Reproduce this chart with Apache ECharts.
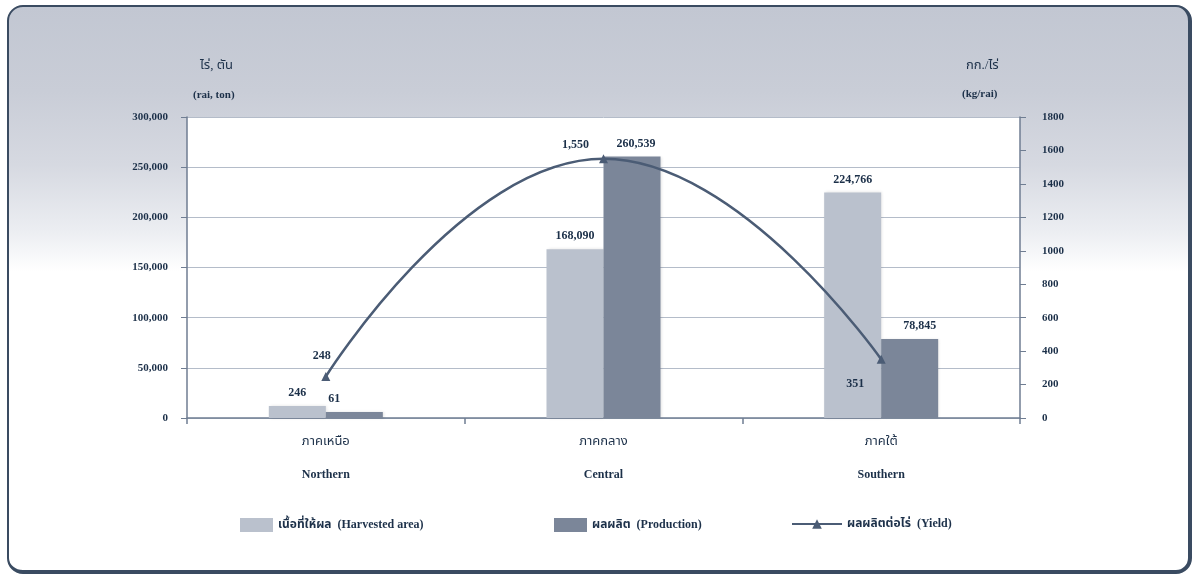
<!DOCTYPE html>
<html>
<head>
<meta charset="utf-8">
<script src="https://cdn.jsdelivr.net/npm/echarts@6/dist/echarts.min.js"></script>
<style>
html,body{margin:0;padding:0;background:#fff;}
#frame{position:absolute;left:7px;top:5px;width:1179px;height:563px;border:2px solid #3a4b61;border-right-width:4px;border-bottom-width:4px;border-radius:16px;
background:linear-gradient(to bottom,#c2c7d2 0%,#c9cdd7 15%,#d6d9e1 28%,#eceef2 40%,#ffffff 47%,#ffffff 100%);}
#chart{position:absolute;left:0;top:0;width:1199px;height:576px;}
</style>
</head>
<body>
<div id="frame"></div>
<div id="chart"></div>
<script>
const categoriesTh = ['ภาคเหนือ', 'ภาคกลาง', 'ภาคใต้'];
const categoriesEn = ['Northern', 'Central', 'Southern'];
const harvestedArea = [246, 168090, 224766];
const production = [61, 260539, 78845];
const yieldKg = [248, 1550, 351];
const leftTicks = {min: 0, max: 300000, interval: 50000};
const rightTicks = {min: 0, max: 1800, interval: 200};
const seriesNames = ['เนื้อที่ให้ผล  (Harvested area)', 'ผลผลิต  (Production)', 'ผลผลิตต่อไร่  (Yield)'];

const fmt = v => Number(v).toLocaleString('en-US');
const FONT = '"Liberation Serif","Noto Sans Thai","Tlwg Typo",serif';
const TXT = '#1c3049';

const chart = echarts.init(document.getElementById('chart'), null, {renderer: 'canvas'});

const prodLabelOffsets = [[-20, 0], [4, 0], [10, 0]];
const yieldLabelCfg = [
  {position: 'top', offset: [-4, -2]},
  {position: 'top', offset: [-28, 5]},
  {position: 'bottom', offset: [-26, 6]}
];
const legendText = {fontFamily: FONT, fontSize: 12, fontWeight: 'bold', color: TXT};

chart.setOption({
  backgroundColor: 'transparent',
  textStyle: {fontFamily: FONT},
  grid: {left: 187, right: 179, top: 117, bottom: 158, containLabel: false, show: true, backgroundColor: '#ffffff', borderWidth: 0},
  legend: [
    {data: [{name: seriesNames[0], icon: 'rect'}], left: 235, top: 513, itemWidth: 33, itemHeight: 14, textStyle: legendText},
    {data: [{name: seriesNames[1], icon: 'rect'}], left: 549, top: 513, itemWidth: 33, itemHeight: 14, textStyle: legendText},
    {data: [seriesNames[2]], left: 786, top: 513, itemWidth: 50, itemHeight: 12, textStyle: legendText}
  ],
  xAxis: {
    type: 'category',
    data: categoriesTh.map((t, i) => t + '\n' + categoriesEn[i]),
    boundaryGap: true,
    axisLine: {lineStyle: {color: '#6f7d92', width: 1.5}},
    axisTick: {show: true, length: 6, lineStyle: {color: '#6f7d92', width: 1.5}},
    axisLabel: {
      margin: 7,
      formatter: v => { const p = v.split('\n'); return '{th|' + p[0] + '}\n{en|' + p[1] + '}'; },
      rich: {
        th: {fontFamily: FONT, fontSize: 13, color: TXT, lineHeight: 33},
        en: {fontFamily: FONT, fontSize: 12, fontWeight: 'bold', color: TXT, lineHeight: 33}
      }
    }
  },
  yAxis: [
    {
      type: 'value', min: leftTicks.min, max: leftTicks.max, interval: leftTicks.interval,
      axisLine: {show: true, lineStyle: {color: '#6f7d92', width: 1.5}},
      axisTick: {show: true, length: 6, lineStyle: {color: '#6f7d92'}},
      axisLabel: {formatter: v => fmt(v), fontFamily: FONT, fontSize: 11, fontWeight: 'bold', color: TXT, margin: 19},
      splitLine: {show: true, lineStyle: {color: '#b4bcc9', width: 1}}
    },
    {
      type: 'value', min: rightTicks.min, max: rightTicks.max, interval: rightTicks.interval,
      position: 'right',
      axisLine: {show: true, lineStyle: {color: '#6f7d92', width: 1.5}},
      axisTick: {show: true, length: 6, lineStyle: {color: '#6f7d92'}},
      axisLabel: {formatter: v => String(v), fontFamily: FONT, fontSize: 11, fontWeight: 'bold', color: TXT, margin: 22},
      splitLine: {show: false}
    }
  ],
  series: [
    {
      name: seriesNames[0], type: 'bar', yAxisIndex: 0, barWidth: 57, barGap: '0%', barMinHeight: 12,
      itemStyle: {color: '#bac1cd', shadowColor: 'rgba(0,0,0,0.12)', shadowBlur: 3, shadowOffsetX: 1},
      label: {show: true, position: 'top', distance: 7, formatter: p => fmt(p.value),
              fontFamily: FONT, fontSize: 12, fontWeight: 'bold', color: TXT},
      data: harvestedArea
    },
    {
      name: seriesNames[1], type: 'bar', yAxisIndex: 0, barWidth: 57, barGap: '0%', barMinHeight: 6,
      itemStyle: {color: '#7b8699', shadowColor: 'rgba(0,0,0,0.12)', shadowBlur: 3, shadowOffsetX: 1},
      label: {show: true, position: 'top', distance: 7, formatter: p => fmt(p.value),
              fontFamily: FONT, fontSize: 12, fontWeight: 'bold', color: TXT},
      data: production.map((v, i) => ({value: v, label: {offset: prodLabelOffsets[i]}}))
    },
    {
      name: seriesNames[2], type: 'line', yAxisIndex: 1, smooth: true,
      symbol: 'triangle', symbolSize: 9,
      lineStyle: {color: '#4b5c75', width: 2.5},
      itemStyle: {color: '#4b5c75'},
      label: {show: true, formatter: p => fmt(p.value), fontFamily: FONT, fontSize: 12, fontWeight: 'bold', color: TXT, distance: 8},
      data: yieldKg.map((v, i) => ({value: v, label: yieldLabelCfg[i]})),
      z: 5
    }
  ],
  graphic: [
    {type: 'text', left: 200, top: 59, style: {text: 'ไร่, ตัน', font: '13px ' + FONT, fill: TXT}},
    {type: 'text', left: 193, top: 90, style: {text: '(rai, ton)', font: 'bold 11px ' + FONT, fill: TXT}},
    {type: 'text', left: 966, top: 59, style: {text: 'กก./ไร่', font: '13px ' + FONT, fill: TXT}},
    {type: 'text', left: 962, top: 89, style: {text: '(kg/rai)', font: 'bold 11px ' + FONT, fill: TXT}}
  ]
});
</script>
</body>
</html>
